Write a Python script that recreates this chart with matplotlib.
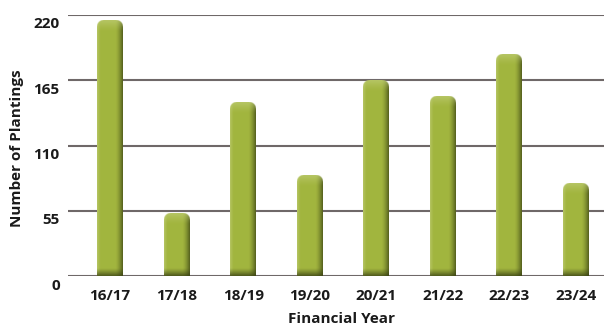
import numpy as np
import matplotlib
matplotlib.use("Agg")
import matplotlib.pyplot as plt
from matplotlib.transforms import ScaledTranslation

# Plantings per financial year
years = ["16/17", "17/18", "18/19", "19/20", "20/21", "21/22", "22/23", "23/24"]
plantings = [215, 53, 146, 85, 165, 151, 187, 78]
y_ticks = [0, 55, 110, 165, 220]

plt.rcParams["font.family"] = ["Open Sans", "DejaVu Sans"]

fig = plt.figure(figsize=(6.04, 3.27), dpi=100)
W, H = 604, 327
ax = fig.add_axes([68 / W, (H - 276) / H, (604 - 68) / W, (276 - 15) / H])
ax.set_xlim(-0.631, 7.42)
ax.set_ylim(0, 220)

# grid
ax.set_yticks(y_ticks)
ax.set_yticklabels([str(t) for t in y_ticks], fontsize=11, fontweight="bold", color="#1a1a1a")
ax.grid(axis="y", color="#6f6868", linewidth=1.5)
ax.set_axisbelow(True)
for s in ax.spines.values():
    s.set_visible(False)
ax.tick_params(axis="y", length=0, pad=6)
ax.tick_params(axis="x", length=0, pad=9)
for lbl in ax.get_yticklabels():
    lbl.set_transform(lbl.get_transform() + ScaledTranslation(0, -0.08, fig.dpi_scale_trans))

ax.set_xticks(range(len(years)))
ax.set_xticklabels(years, fontsize=11, fontweight="bold", color="#1a1a1a")

ax.set_ylabel("Number of Plantings", fontsize=11, fontweight="bold", color="#1a1a1a")
ax.yaxis.set_label_coords(-0.082, 0.49)
ax.set_xlabel("Financial Year", fontsize=11, fontweight="bold", color="#1a1a1a")
ax.xaxis.set_label_coords(0.51, -0.138)

bar_w = 0.39
base = np.array([0.635, 0.710, 0.245])
light = np.array([0.78, 0.83, 0.52])
dark = np.array([0.27, 0.31, 0.09])


def bar_image(wpx, hpx, ss=3, radius=6.5):
    nx, ny = max(int(round(wpx * ss)), 2), max(int(round(hpx * ss)), 2)
    px = (np.arange(nx) + 0.5) / ss
    py = (np.arange(ny) + 0.5) / ss  # from top
    u = px / wpx
    col = np.tile(base, (nx, 1))
    # left sheen
    f = np.clip(1 - u / 0.14, 0, 1) ** 1.2 * 0.55
    col = col * (1 - f[:, None]) + light * f[:, None]
    # right shade
    g = np.clip((u - 0.70) / 0.30, 0, 1) ** 1.6 * 0.85
    col = col * (1 - g[:, None]) + dark * g[:, None]
    img = np.tile(col[None, :, :], (ny, 1, 1))
    # top highlight
    t = np.clip(1 - py / 11.0, 0, 1) ** 1.3 * 0.55
    img = img * (1 - t[:, None, None]) + light * t[:, None, None]
    # bottom shadow
    b = np.clip(1 - (hpx - py) / 8.0, 0, 1) ** 1.2 * 0.8
    img = img * (1 - b[:, None, None]) + dark * 0.8 * b[:, None, None]
    # rounded top corners
    alpha = np.ones((ny, nx))
    r = min(radius, wpx / 2, hpx)
    XX, YY = np.meshgrid(px, py)
    cx = np.where(XX < r, r, np.where(XX > wpx - r, wpx - r, XX))
    corner = (YY < r) & ((XX < r) | (XX > wpx - r))
    d = np.hypot(XX - cx, YY - r)
    alpha[corner] = np.clip(r - d[corner] + 0.5, 0, 1)
    rgba = np.dstack([np.clip(img, 0, 1), alpha])
    return rgba


for i, v in enumerate(plantings):
    x0, x1 = i - bar_w / 2, i + bar_w / 2
    p0 = ax.transData.transform((x0, 0))
    p1 = ax.transData.transform((x1, v))
    wpx, hpx = p1[0] - p0[0], p1[1] - p0[1]
    ax.imshow(bar_image(wpx, hpx), extent=(x0, x1, 0, v), origin="upper",
              aspect="auto", interpolation="antialiased", zorder=3)

ax.set_xlim(-0.631, 7.42)
ax.set_ylim(0, 220)

fig.savefig("out.png", dpi=100)
